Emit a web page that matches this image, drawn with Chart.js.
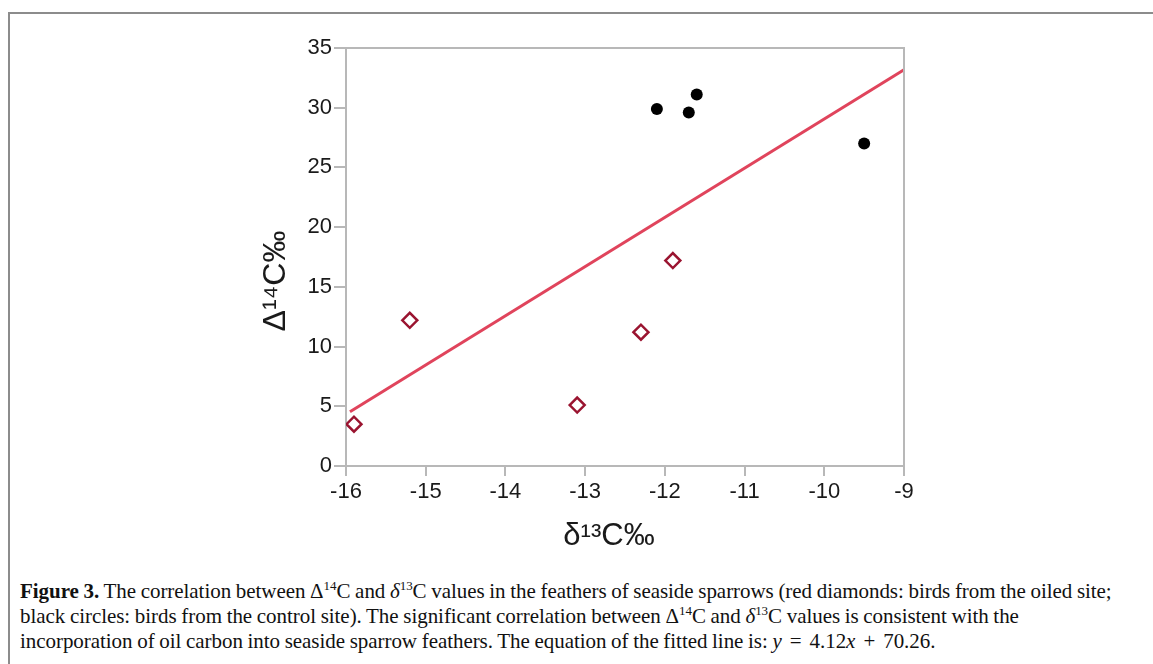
<!DOCTYPE html>
<html>
<head>
<meta charset="utf-8">
<script src="https://cdn.jsdelivr.net/npm/chart.js@4"></script>
<style>
  body { margin: 0; background: #fff; width: 1153px; height: 664px; overflow: hidden; position: relative; }
  #frame { position: absolute; left: 8px; top: 12px; width: 1200px; height: 700px; border-left: 2px solid #8c8c8c; border-top: 2px solid #8c8c8c; }
  #wrap { position: absolute; left: 0; top: 0; width: 1153px; height: 560px; }
  #caption { position: absolute; left: 20px; top: 580px; font-family: "Liberation Serif", serif; font-size: 21px; line-height: 22px; color: #111; letter-spacing: -0.05px; word-spacing: -0.5px; white-space: nowrap; }
  #caption sup { font-size: 13px; vertical-align: 0; position: relative; top: -8px; }
  #caption .op { display: inline-block; padding: 0 8px; }
</style>
</head>
<body>
<div id="frame"></div>
<div id="wrap"><canvas id="chart"></canvas></div>
<div id="caption"><b>Figure 3.</b> The correlation between Δ<sup>14</sup>C and <i>δ</i><sup>13</sup>C values in the feathers of seaside sparrows (red diamonds: birds from the oiled site;<br>black circles: birds from the control site). The significant correlation between Δ<sup>14</sup>C and <i>δ</i><sup>13</sup>C values is consistent with the<br>incorporation of oil carbon into seaside sparrow feathers. The equation of the fitted line is: <i>y</i><span class="op">=</span>4.12<i>x</i><span class="op">+</span>70.26.</div>
<script>
// oiled site (red diamonds)
const oiledX = [-15.9, -15.2, -13.1, -12.3, -11.9];
const oiledY = [3.5, 12.2, 5.1, 11.2, 17.2];
// control site (black circles)
const controlX = [-12.1, -11.7, -11.6, -9.5];
const controlY = [29.9, 29.6, 31.1, 27.0];
// fitted line y = 4.12x + 70.26, end points
const fitX = [-15.95, -9];
const fitY = [4.55, 33.18];

const xTicks = [-16, -15, -14, -13, -12, -11, -10, -9];
const yTicks = [0, 5, 10, 15, 20, 25, 30, 35];

const xTitle = "δ¹³C‰";
const yTitle = "Δ¹⁴C‰";

const pts = (xs, ys) => xs.map((x, i) => ({ x: x, y: ys[i] }));

const axisColor = "#b8b8b8";
const textColor = "#1a1a1a";
const tickFont = { family: "Liberation Sans", size: 22 };

new Chart(document.getElementById("chart"), {
    type: "scatter",
    data: {
        datasets: [
            {
                type: "line",
                data: pts(fitX, fitY),
                borderColor: "#e0445c",
                borderWidth: 3,
                pointRadius: 0,
                fill: false
            },
            {
                data: pts(oiledX, oiledY),
                pointStyle: "rectRot",
                pointRadius: 7.5,
                pointBorderWidth: 2.5,
                pointBorderColor: "#9a1430",
                pointBackgroundColor: "#ffffff"
            },
            {
                data: pts(controlX, controlY),
                pointStyle: "circle",
                pointRadius: 6,
                pointBorderWidth: 0,
                pointBackgroundColor: "#000000"
            }
        ]
    },
    options: {
        responsive: true,
        maintainAspectRatio: false,
        animation: false,
        layout: { padding: { left: 256, top: 48, right: 249, bottom: 0 } },
        plugins: { legend: { display: false }, tooltip: { enabled: false } },
        scales: {
            x: {
                type: "linear",
                min: -16,
                max: -9,
                afterBuildTicks: s => { s.ticks = xTicks.map(v => ({ value: v })); },
                afterFit: s => { s.height = 94; },
                border: { color: axisColor, width: 2 },
                grid: { drawOnChartArea: false, color: axisColor, lineWidth: 2, tickLength: 10 },
                ticks: { color: textColor, font: tickFont, padding: 3, maxRotation: 0 }
            },
            y: {
                type: "linear",
                min: 0,
                max: 35,
                afterBuildTicks: s => { s.ticks = yTicks.map(v => ({ value: v })); },
                afterFit: s => { s.width = 90; },
                border: { color: axisColor, width: 2 },
                grid: { drawOnChartArea: false, color: axisColor, lineWidth: 2, tickLength: 12 },
                ticks: { color: textColor, font: tickFont, padding: 2 }
            }
        }
    },
    plugins: [{
        id: "frameBox",
        afterDraw(chart) {
            const a = chart.chartArea, c = chart.ctx;
            c.save();
            c.strokeStyle = axisColor;
            c.lineWidth = 2;
            c.beginPath();
            c.moveTo(a.left, a.top);
            c.lineTo(a.right, a.top);
            c.lineTo(a.right, a.bottom);
            c.stroke();

            // axis titles
            c.fillStyle = textColor;
            c.textAlign = "center";
            c.textBaseline = "middle";
            c.font = "31px 'Liberation Sans'";
            c.fillText(xTitle, 609, 536);
            c.translate(276, 281);
            c.rotate(-Math.PI / 2);
            c.font = "32px 'Liberation Sans'";
            c.fillText(yTitle, 0, 0);
            c.restore();
        }
    }]
});
</script>
</body>
</html>
